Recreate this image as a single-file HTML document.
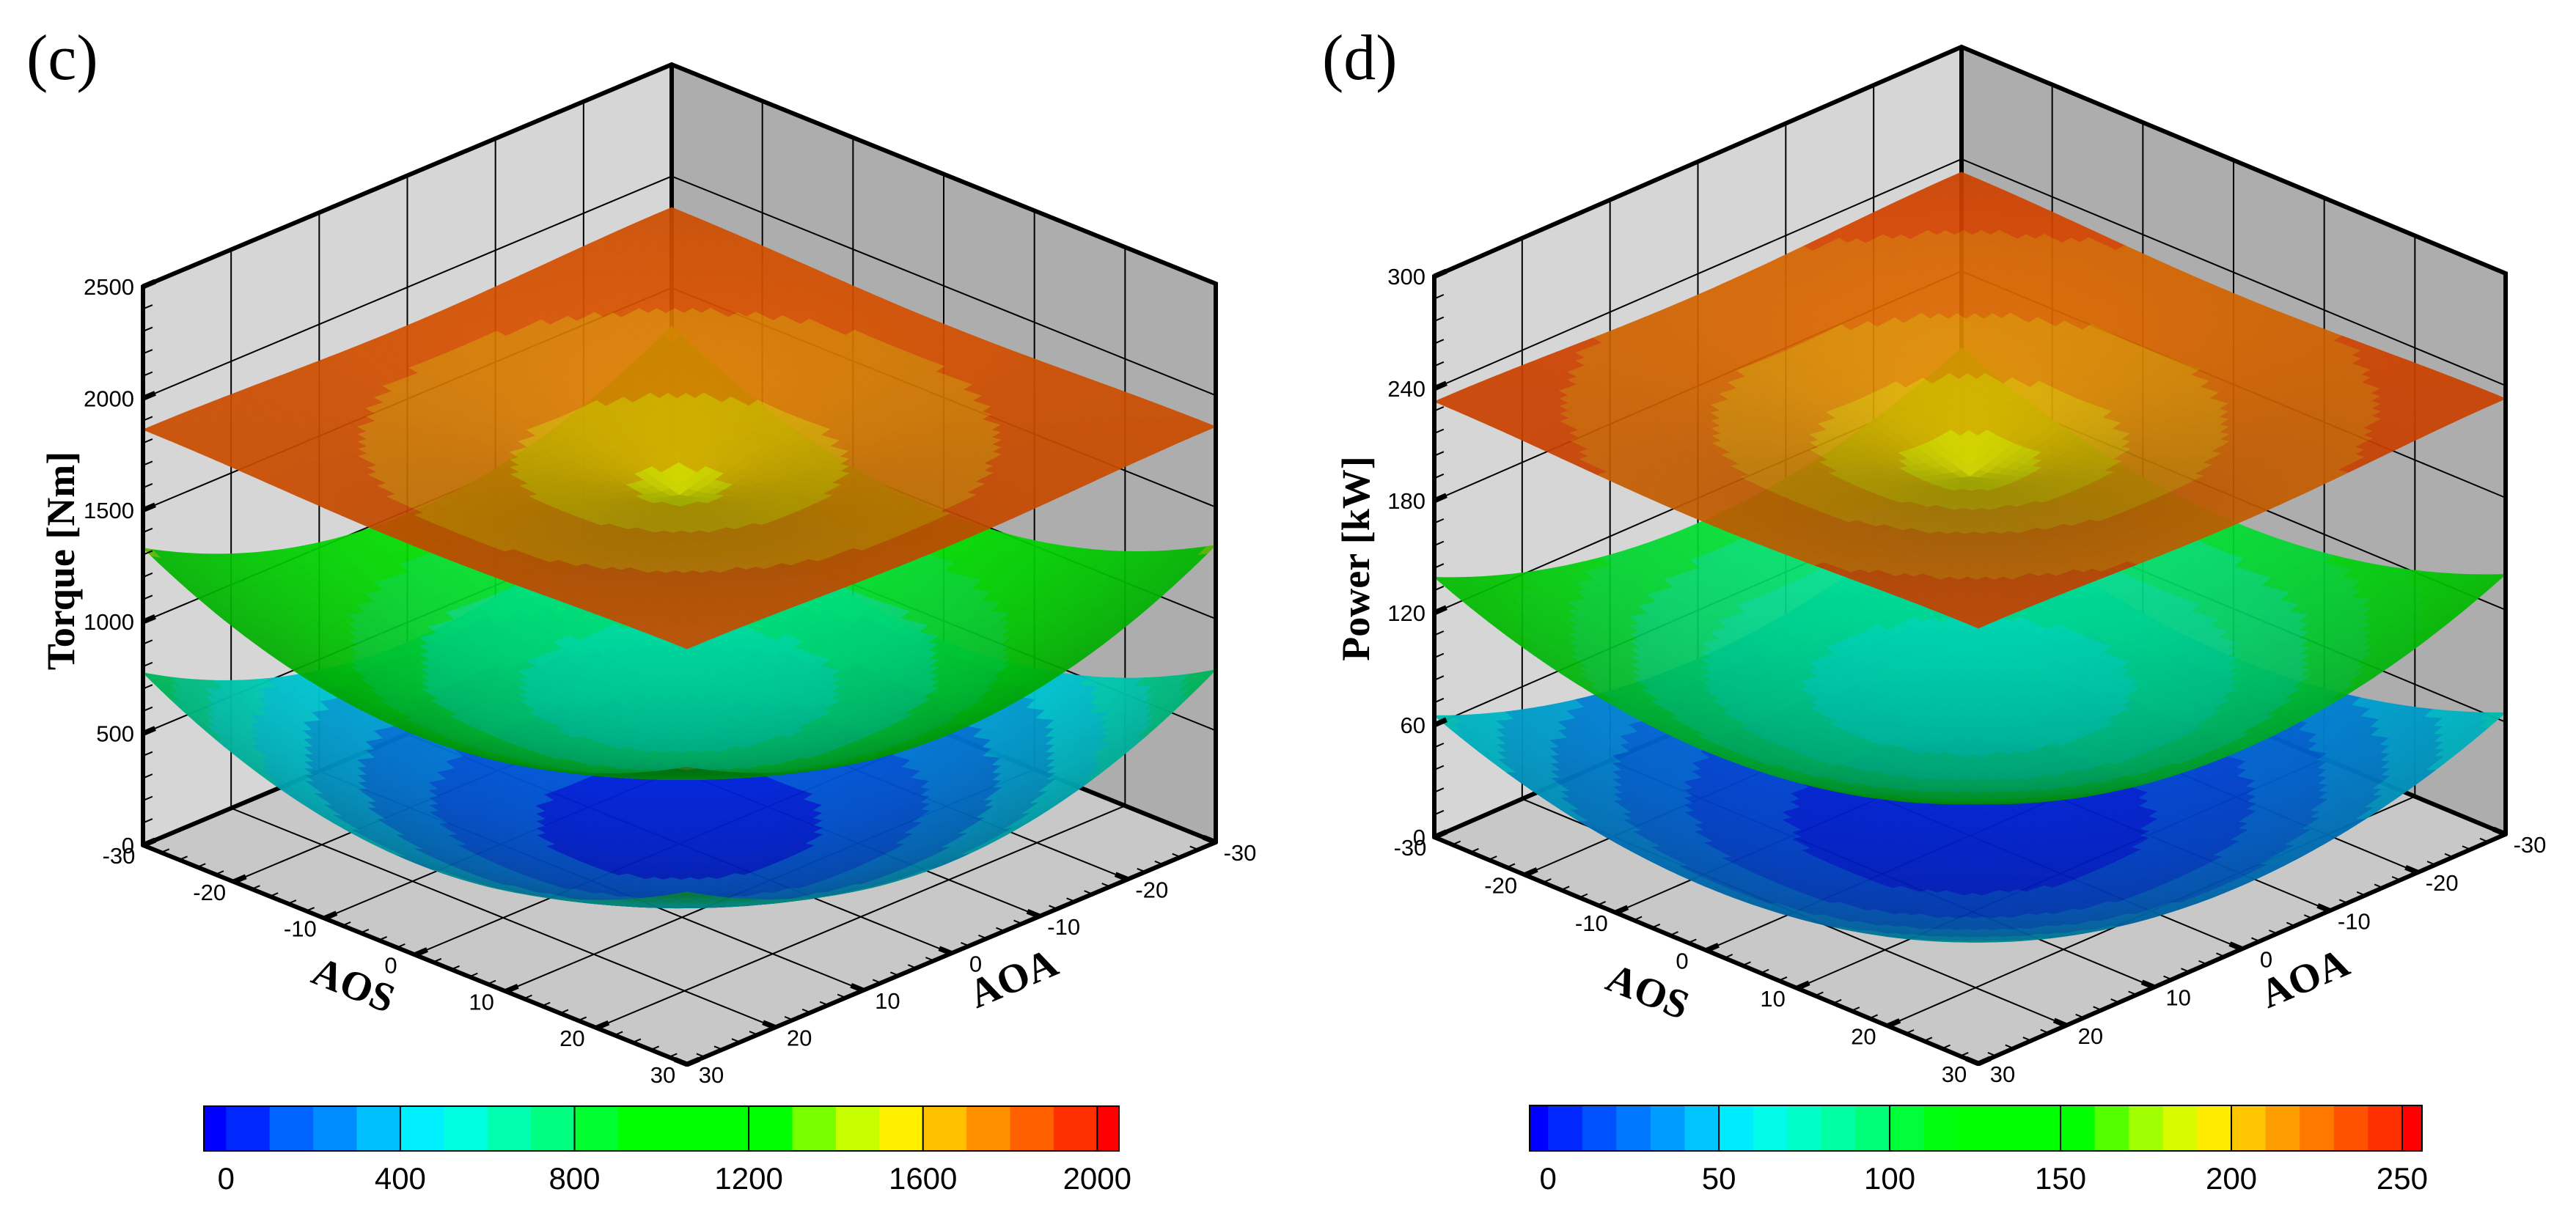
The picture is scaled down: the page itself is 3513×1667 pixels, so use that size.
<!DOCTYPE html>
<html><head><meta charset="utf-8"><style>
html,body{margin:0;padding:0;background:#fff;}
svg{display:block;}
</style></head><body>
<svg id="chart" xmlns="http://www.w3.org/2000/svg" width="3513" height="1667" viewBox="0 0 3513 1667">
<rect x="0" y="0" width="3513" height="1667" fill="#fff"/>
</svg>
<script>
// ---- data ----
const torqueCenter = [50, 640, 1560];
const torqueCorner = [772, 1330, 1860];
const powerCenter = [3, 74, 192];
const powerCorner = [65, 139, 233];
const surfaceShape = ['bowl', 'bowl', 'dome'];
const torqueTicks = [0, 500, 1000, 1500, 2000, 2500];
const powerTicks = [0, 60, 120, 180, 240, 300];
const angleTicks = [-30, -20, -10, 0, 10, 20, 30];
const torqueBarLabels = [0, 400, 800, 1200, 1600, 2000];
const powerBarLabels = [0, 50, 100, 150, 200, 250];

const palette = ['#0028FF','#0064FF','#008CFF','#00C0FF','#00F0FF','#00FFE0','#00FFB0','#00FF80','#00FF30','#00FF00',
 '#00FF00','#00FF00','#00FF00','#78FF00','#C8FF00','#FFF000','#FFC000','#FF9000','#FF6000','#FF3000'];
function hex2rgb(h){return [parseInt(h.substr(1,2),16),parseInt(h.substr(3,2),16),parseInt(h.substr(5,2),16)];}
const palRGB = palette.map(hex2rgb);
function palAt(t){
  const p = t*20-0.5;
  if(p<=0) return palRGB[0].slice();
  if(p>=19) return palRGB[19].slice();
  const i=Math.floor(p), f=p-i;
  return palRGB[i].map((c,k)=>c+(palRGB[i+1][k]-c)*f);
}
function bandColor(v, vmax, nCells){
  if(v<0) return [0,0,255];
  if(v>=vmax) return [255,0,0];
  const i=Math.floor(v/vmax*nCells);
  return palAt((i+0.5)/nCells);
}
function rgbStr(c,b){return 'rgb('+c.map(x=>Math.max(0,Math.min(255,Math.round(x*b)))).join(',')+')';}

const NS='http://www.w3.org/2000/svg';
const svg=document.getElementById('chart');
function mk(tag, attrs, parent){
  const e=document.createElementNS(NS,tag);
  for(const k in attrs) e.setAttribute(k,attrs[k]);
  (parent||svg).appendChild(e);
  return e;
}

const panels=[
  {id:'c', L:[195,1153], R:[1658,1149], F:[937,1452], zmax:2500, H:762, center:torqueCenter, corner:torqueCorner,
   ticks:torqueTicks, minor:100, title:'Torque [Nm]', letter:'(c)', letterX:36, titleX:83, titleY:765,
   aos:[482,1344], aoa:[1382,1335], bar:{x0:278,x1:1526,vmin:-51,vmax:2050,step:100,top:1509,bot:1570,max:2000,labels:torqueBarLabels}},
  {id:'d', L:[1956,1142], R:[3417,1138], F:[2698,1451], zmax:300, H:765, center:powerCenter, corner:powerCorner,
   ticks:powerTicks, minor:12, title:'Power [kW]', letter:'(d)', letterX:1803, titleX:1849, titleY:762,
   aos:[2247,1353], aoa:[3143,1335], bar:{x0:2086,x1:3303,vmin:-5.4,vmax:255.8,step:10,top:1508,bot:1570,max:250,labels:powerBarLabels}}
];

const RMAX=Math.sqrt(1800);
function shape(type,r){
  if(type==='dome') return Math.sin(Math.min(r,RMAX)/RMAX*Math.PI/2);
  return r*r/1800;
}

panels.forEach(p=>{
  const B=[p.L[0]+p.R[0]-p.F[0], p.L[1]+p.R[1]-p.F[1]];
  const k=p.H/p.zmax;
  function P(a,s,z){
    const fa=(a+30)/60, fs=(s+30)/60;
    return [B[0]+fa*(p.L[0]-B[0])+fs*(p.R[0]-B[0]), B[1]+fa*(p.L[1]-B[1])+fs*(p.R[1]-B[1])-z*k];
  }
  const pts=a=>a.map(q=>q[0].toFixed(1)+','+q[1].toFixed(1)).join(' ');
  const g=mk('g',{});
  
  

  const wl=mk('polygon',{points:pts([P(30,-30,0),P(-30,-30,0),P(-30,-30,p.zmax),P(30,-30,p.zmax)]),fill:'#d6d6d6'},g);
   
  const wr=mk('polygon',{points:pts([P(-30,-30,0),P(-30,30,0),P(-30,30,p.zmax),P(-30,-30,p.zmax)]),fill:'#adadad'},g);
   
  const fl=mk('polygon',{points:pts([P(30,-30,0),P(-30,-30,0),P(-30,30,0),P(30,30,0)]),fill:'#c8c8c8'},g);
   

  const gg=mk('g',{stroke:'#000','stroke-width':2,fill:'none'},g);
   
  angleTicks.slice(1,-1).forEach(t=>{
    let a=P(t,-30,0),b=P(t,-30,p.zmax); mk('line',{x1:a[0],y1:a[1],x2:b[0],y2:b[1]},gg);
    a=P(-30,t,0);b=P(-30,t,p.zmax); mk('line',{x1:a[0],y1:a[1],x2:b[0],y2:b[1]},gg);
    a=P(t,-30,0);b=P(t,30,0); mk('line',{x1:a[0],y1:a[1],x2:b[0],y2:b[1]},gg);
    a=P(-30,t,0);b=P(30,t,0); mk('line',{x1:a[0],y1:a[1],x2:b[0],y2:b[1]},gg);
  });
  p.ticks.slice(1,-1).forEach(z=>{
    mk('polyline',{points:pts([P(30,-30,z),P(-30,-30,z),P(-30,30,z)])},gg);
  });
  const be=mk('g',{stroke:'#000','stroke-width':6,fill:'none','stroke-linecap':'round'},g);
   
  mk('polyline',{points:pts([P(30,-30,0),P(-30,-30,0),P(-30,30,0)])},be);
  mk('line',{x1:B[0],y1:B[1],x2:B[0],y2:B[1]-p.H},be);

  const N=60, st=60/N;
  for(let si=0;si<p.center.length;si++){
    const c0=p.center[si], c1=p.corner[si], type=surfaceShape[si];
    const zf=(a,s)=>c0+(c1-c0)*shape(type,Math.hypot(a,s));
    const sg=mk('g',{opacity:si===0?0.96:0.92},g);
    
    
    const quads=[];
    for(let i=0;i<N;i++)for(let j=0;j<N;j++){
      const a0=-30+i*st,s0=-30+j*st;
      quads.push([a0,a0+st,s0,s0+st,a0+st/2,s0+st/2]);
    }
    quads.sort((q,r)=>(q[4]+q[5])-(r[4]+r[5]));
    const Lv=[0.5,0.5,0.75]; const ln=Math.hypot(...Lv);
    const nC=Math.round(p.bar.max/p.bar.step);
    quads.forEach(q=>{
      const [a0,a1,s0,s1,am,sm]=q;
      const zm=zf(am,sm);
      const col=bandColor(zm,p.bar.max,nC);
      const h=0.5;
      const sc=60/p.zmax*0.95;
      const dzda=(zf(am+h,sm)-zf(am-h,sm))/(2*h)*sc;
      const dzds=(zf(am,sm+h)-zf(am,sm-h))/(2*h)*sc;
      const n=[-dzda,-dzds,1]; const nn=Math.hypot(...n);
      const dot=(n[0]*Lv[0]+n[1]*Lv[1]+n[2]*Lv[2])/(nn*ln);
      const br=0.36+0.6*Math.max(0,dot);
      const f=rgbStr(col,br);
      const poly=mk('polygon',{points:pts([P(a0,s0,zf(a0,s0)),P(a1,s0,zf(a1,s0)),P(a1,s1,zf(a1,s1)),P(a0,s1,zf(a0,s1))]),fill:f,stroke:f,'stroke-width':0.8},sg);
      
      
    });
  }

  const fe=mk('g',{stroke:'#000','stroke-width':6,fill:'none','stroke-linecap':'round'},g);
   
  mk('polyline',{points:pts([P(30,-30,0),P(30,30,0),P(-30,30,0)])},fe);
  mk('polyline',{points:pts([P(30,-30,0),P(30,-30,p.zmax),P(-30,-30,p.zmax),P(-30,30,p.zmax),P(-30,30,0)])},fe);

  const dirB=[B[0]-p.L[0],B[1]-p.L[1]]; const dl=Math.hypot(...dirB); const uB=[dirB[0]/dl,dirB[1]/dl];
  const tg=mk('g',{stroke:'#000',fill:'none'},g);
   
  for(let z=0;z<=p.zmax+1e-6;z+=p.minor){
    const q=P(30,-30,z);
    mk('line',{x1:q[0],y1:q[1],x2:q[0]+uB[0]*14,y2:q[1]+uB[1]*14,'stroke-width':2},tg);
  }
  p.ticks.forEach(z=>{
    const q=P(30,-30,z);
    mk('line',{x1:q[0],y1:q[1],x2:q[0]+uB[0]*18,y2:q[1]+uB[1]*18,'stroke-width':7},tg);
    const t=mk('text',{x:q[0]-12,y:q[1]+11,'text-anchor':'end','font-family':'Liberation Sans, sans-serif','font-size':31,fill:'#000'},g);
    t.textContent=z;
     
  });
  const dR=[B[0]-p.R[0],B[1]-p.R[1]]; const dr=Math.hypot(...dR); const uR=[dR[0]/dr,dR[1]/dr];
  for(let v=-30;v<=30;v+=2){
    let q=P(30,v,0); mk('line',{x1:q[0],y1:q[1],x2:q[0]+uB[0]*12,y2:q[1]+uB[1]*12,'stroke-width':2},tg);
    q=P(v,30,0); mk('line',{x1:q[0],y1:q[1],x2:q[0]+uR[0]*12,y2:q[1]+uR[1]*12,'stroke-width':2},tg);
  }
  angleTicks.forEach(v=>{
    let q=P(30,v,0);
    mk('line',{x1:q[0],y1:q[1],x2:q[0]+uB[0]*18,y2:q[1]+uB[1]*18,'stroke-width':7},tg);
    let t=mk('text',{x:q[0]-33,y:q[1]+25,'text-anchor':'middle','font-family':'Liberation Sans, sans-serif','font-size':31,fill:'#000'},g);
    t.textContent=v;
     
    q=P(v,30,0);
    mk('line',{x1:q[0],y1:q[1],x2:q[0]+uR[0]*18,y2:q[1]+uR[1]*18,'stroke-width':7},tg);
    t=mk('text',{x:q[0]+33,y:q[1]+25,'text-anchor':'middle','font-family':'Liberation Sans, sans-serif','font-size':31,fill:'#000'},g);
    t.textContent=v;
     
  });

  let t=mk('text',{x:p.letterX,y:108,'font-family':'Liberation Serif, serif','font-size':88,fill:'#000'},g);
  t.textContent=p.letter;  
  t=mk('text',{x:0,y:0,transform:'translate('+p.titleX+','+p.titleY+') rotate(-90)','text-anchor':'middle','dominant-baseline':'central','font-family':'Liberation Serif, serif','font-weight':'bold','font-size':54,fill:'#000'},g);
  t.textContent=p.title;  
  t=mk('text',{x:0,y:0,transform:'translate('+p.aos[0]+','+p.aos[1]+') rotate(22)','text-anchor':'middle','dominant-baseline':'central','font-family':'Liberation Serif, serif','font-weight':'bold','font-size':56,fill:'#000'},g);
  t.textContent='AOS';  
  t=mk('text',{x:0,y:0,transform:'translate('+p.aoa[0]+','+p.aoa[1]+') rotate(-23)','text-anchor':'middle','dominant-baseline':'central','font-family':'Liberation Serif, serif','font-weight':'bold','font-size':56,fill:'#000'},g);
  t.textContent='AOA';  

  const b=p.bar;
  const xs=v=>b.x0+(v-b.vmin)/(b.vmax-b.vmin)*(b.x1-b.x0);
  const cb=mk('g',{},g);
   
  const nC=Math.round(b.max/b.step);
  const edges=[b.vmin];
  for(let v=0; v<=b.max+1e-6; v+=b.step) edges.push(v);
  edges.push(b.vmax);
  for(let i=0;i<edges.length-1;i++){
    const mid=(edges[i]+edges[i+1])/2;
    const col=bandColor(mid,b.max,nC);
    const r=mk('rect',{x:xs(edges[i]),y:b.top,width:xs(edges[i+1])-xs(edges[i])+0.6,height:b.bot-b.top,fill:rgbStr(col,1)},cb);
     
  }
  mk('rect',{x:b.x0,y:b.top,width:b.x1-b.x0,height:b.bot-b.top,fill:'none',stroke:'#000','stroke-width':2},cb);
  b.labels.forEach(v=>{
    if(v>0) mk('line',{x1:xs(v),y1:b.top,x2:xs(v),y2:b.bot,stroke:'#000','stroke-width':2},cb);
    const tt=mk('text',{x:xs(v),y:1622,'text-anchor':'middle','font-family':'Liberation Sans, sans-serif','font-size':42,fill:'#000'},cb);
    tt.textContent=v;
     
  });
});
</script>
</body></html>
